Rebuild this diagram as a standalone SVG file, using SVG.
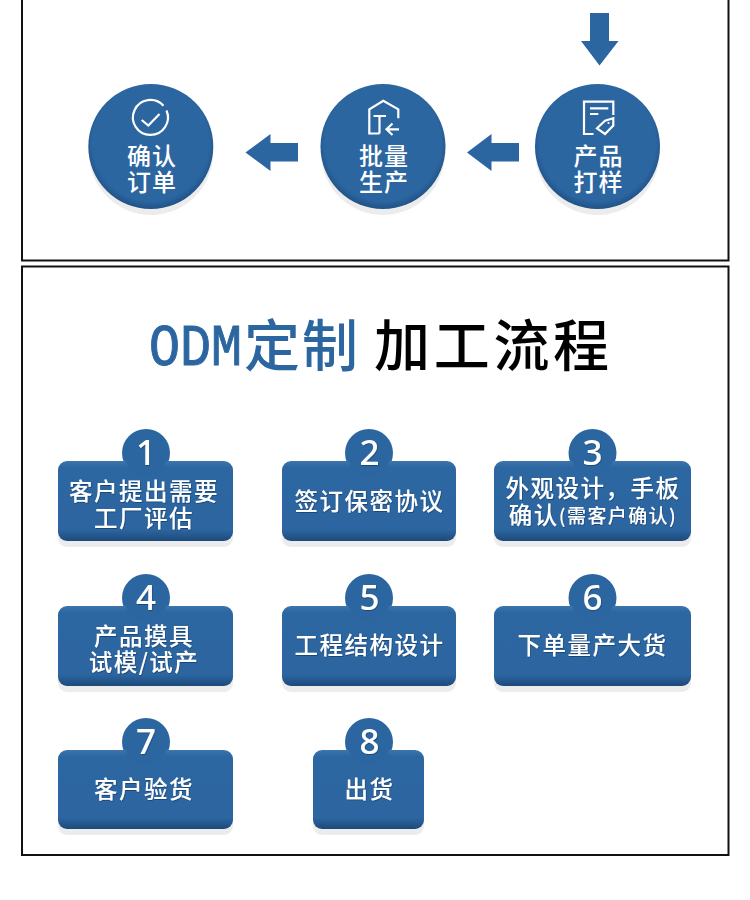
<svg xmlns="http://www.w3.org/2000/svg" width="750" height="900" viewBox="0 0 750 900">
<style>
text{font-family:"Noto Sans CJK SC","Noto Sans",sans-serif}
.t{fill:#fff;font-size:23.5px;font-weight:500;letter-spacing:1.5px;text-anchor:middle;filter:url(#ts)}
.s{font-size:19px;letter-spacing:1.4px}
.n{fill:#fff;font-family:"Noto Sans",sans-serif;font-size:35px;font-weight:500;text-anchor:middle;filter:url(#ts)}
.ct{fill:#fff;font-size:24px;font-weight:500;letter-spacing:1px;text-anchor:middle}
.sh{fill:#ececec}
.card{fill:url(#cg)}
.disc{fill:url(#dg)}
.badge{fill:#2c66a1}
.ic{fill:none;stroke:#fff;stroke-width:2.2;stroke-linejoin:miter}
.frame{fill:#fff;stroke:#111;stroke-width:2}
.arr{fill:#2c66a1}
</style>
<defs>
<linearGradient id="cg" x1="0" y1="0" x2="0" y2="1">
<stop offset="0" stop-color="#3c75ab"/><stop offset=".08" stop-color="#2d67a2"/><stop offset=".86" stop-color="#2c65a0"/><stop offset="1" stop-color="#1c4a7a"/>
</linearGradient>
<radialGradient id="dg" cx=".5" cy=".47" r=".54">
<stop offset="0" stop-color="#2c66a1"/><stop offset=".86" stop-color="#2c66a1"/><stop offset="1" stop-color="#1e4f82"/>
</radialGradient>
<filter id="ts" x="-10%" y="-10%" width="120%" height="130%"><feDropShadow dx="0.6" dy="1" stdDeviation="0.7" flood-color="#123a66" flood-opacity=".7"/></filter>
</defs>
<rect width="750" height="900" fill="#fff"/>
<g id="frames">
<rect class="frame" x="22" y="-10" width="706.5" height="270.5"/>
<rect class="frame" x="22" y="266.500" width="706.5" height="588.5"/>
</g>
<g id="title">
<text x="149" y="365" textLength="93" lengthAdjust="spacingAndGlyphs" style="font-family:'Liberation Mono',monospace;font-size:60px;fill:#2c66a1;stroke:#2c66a1;stroke-width:1">ODM</text>
<text x="244" y="366" style="font-size:56px;letter-spacing:2px;fill:#2c66a1;font-weight:500">定制</text>
<text x="374" y="366" style="font-size:56px;letter-spacing:3.700px;fill:#000;font-weight:500">加工流程</text>
</g>
<g id="connectors">
<polygon class="arr" points="590,13 609,13 609,41 618.500,41 599.500,65.500 581,41 590,41"/>
<polygon class="arr" points="519,143 491.500,143 491.500,134 467,152.500 491.500,171 491.500,161.500 519,161.500"/>
<polygon class="arr" points="298,143 270.500,143 270.500,134 245.500,152.500 270.500,171 270.500,161.500 298,161.500"/>
</g>
<g id="step-confirm">
<circle class="sh" cx="151" cy="153" r="62"/><circle class="disc" cx="150.800" cy="146.500" r="62.500"/>
<path class="ic" d="M163.500 105.800A17.500 17.500 0 1 0 166.500 110.500"/><path class="ic" d="M141.700 120L148.300 125.500L159.500 114"/>
<text class="ct" x="152" y="165">确认<tspan x="152" dy="26">订单</tspan></text>
</g>
<g id="step-batch">
<circle class="sh" cx="383" cy="153" r="62"/><circle class="disc" cx="383" cy="146.500" r="62.500"/>
<path class="ic" d="M379.500 133.500H369.300V109.300L383.300 100.700L398.300 109.300V118.300M373.500 116H386M379.500 116V133.500M399 129.300H387M392.500 123.500L386.500 129.300L392.500 135"/>
<text class="ct" x="384" y="165">批量<tspan x="384" dy="26">生产</tspan></text>
</g>
<g id="step-sample">
<circle class="sh" cx="597.500" cy="153" r="62"/><circle class="disc" cx="597.500" cy="146.500" r="62.500"/>
<path class="ic" d="M613.300 115V101.700H584V134H593.500M590 108.300H608.300M590 114H598.300"/>
<path class="ic" d="M597 128.300L605 120.700L613.300 118.300V125.500L605 134Z"/><circle cx="608.500" cy="123" r="1.100" fill="#fff"/>
<text class="ct" x="598.500" y="165">产品<tspan x="598.500" dy="26">打样</tspan></text>
</g>
<g id="node-1">
<rect class="sh" x="58" y="467" width="175" height="80" rx="9"/><circle class="badge" cx="146" cy="453" r="24"/><rect class="card" x="58" y="461" width="175" height="80" rx="9"/>
<circle class="badge" cx="146" cy="455" r="21"/><text class="n" x="146" y="465">1</text>
<text class="t" x="144" y="500">客户提出需要<tspan x="144" dy="27">工厂评估</tspan></text>
</g>
<g id="node-2">
<rect class="sh" x="282" y="467" width="174" height="80" rx="9"/><circle class="badge" cx="369" cy="453" r="24"/><rect class="card" x="282" y="461" width="174" height="80" rx="9"/>
<circle class="badge" cx="369" cy="455" r="21"/><text class="n" x="369.500" y="465">2</text>
<text class="t" x="369.500" y="510">签订保密协议</text>
</g>
<g id="node-3">
<rect class="sh" x="494" y="467" width="197" height="80" rx="9"/><circle class="badge" cx="592.500" cy="453" r="24"/><rect class="card" x="494" y="461" width="197" height="80" rx="9"/>
<circle class="badge" cx="592.500" cy="455" r="21"/><text class="n" x="592.500" y="465">3</text>
<text class="t" x="593" y="497">外观设计，手板<tspan x="593" dy="27">确认<tspan class="s" dy="-1">(需客户确认)</tspan></tspan></text>
</g>
<g id="node-4">
<rect class="sh" x="58" y="612" width="175" height="80" rx="9"/><circle class="badge" cx="146" cy="598" r="24"/><rect class="card" x="58" y="606" width="175" height="80" rx="9"/>
<circle class="badge" cx="146" cy="600" r="21"/><text class="n" x="146" y="610">4</text>
<text class="t" x="144" y="645">产品摸具<tspan x="144" dy="26">试模/试产</tspan></text>
</g>
<g id="node-5">
<rect class="sh" x="282" y="612" width="174" height="80" rx="9"/><circle class="badge" cx="369" cy="598" r="24"/><rect class="card" x="282" y="606" width="174" height="80" rx="9"/>
<circle class="badge" cx="369" cy="600" r="21"/><text class="n" x="369.500" y="610">5</text>
<text class="t" x="369.500" y="654">工程结构设计</text>
</g>
<g id="node-6">
<rect class="sh" x="494" y="612" width="197" height="80" rx="9"/><circle class="badge" cx="592.500" cy="598" r="24"/><rect class="card" x="494" y="606" width="197" height="80" rx="9"/>
<circle class="badge" cx="592.500" cy="600" r="21"/><text class="n" x="592.500" y="610">6</text>
<text class="t" x="592.500" y="654">下单量产大货</text>
</g>
<g id="node-7">
<rect class="sh" x="58" y="756" width="175" height="79" rx="9"/><circle class="badge" cx="146" cy="742" r="24"/><rect class="card" x="58" y="750" width="175" height="79" rx="9"/>
<circle class="badge" cx="146" cy="744" r="21"/><text class="n" x="146" y="754">7</text>
<text class="t" x="144" y="798">客户验货</text>
</g>
<g id="node-8">
<rect class="sh" x="313" y="756" width="111" height="79" rx="9"/><circle class="badge" cx="369" cy="742" r="24"/><rect class="card" x="313" y="750" width="111" height="79" rx="9"/>
<circle class="badge" cx="369" cy="744" r="21"/><text class="n" x="369.500" y="754">8</text>
<text class="t" x="369.500" y="798">出货</text>
</g>
</svg>
